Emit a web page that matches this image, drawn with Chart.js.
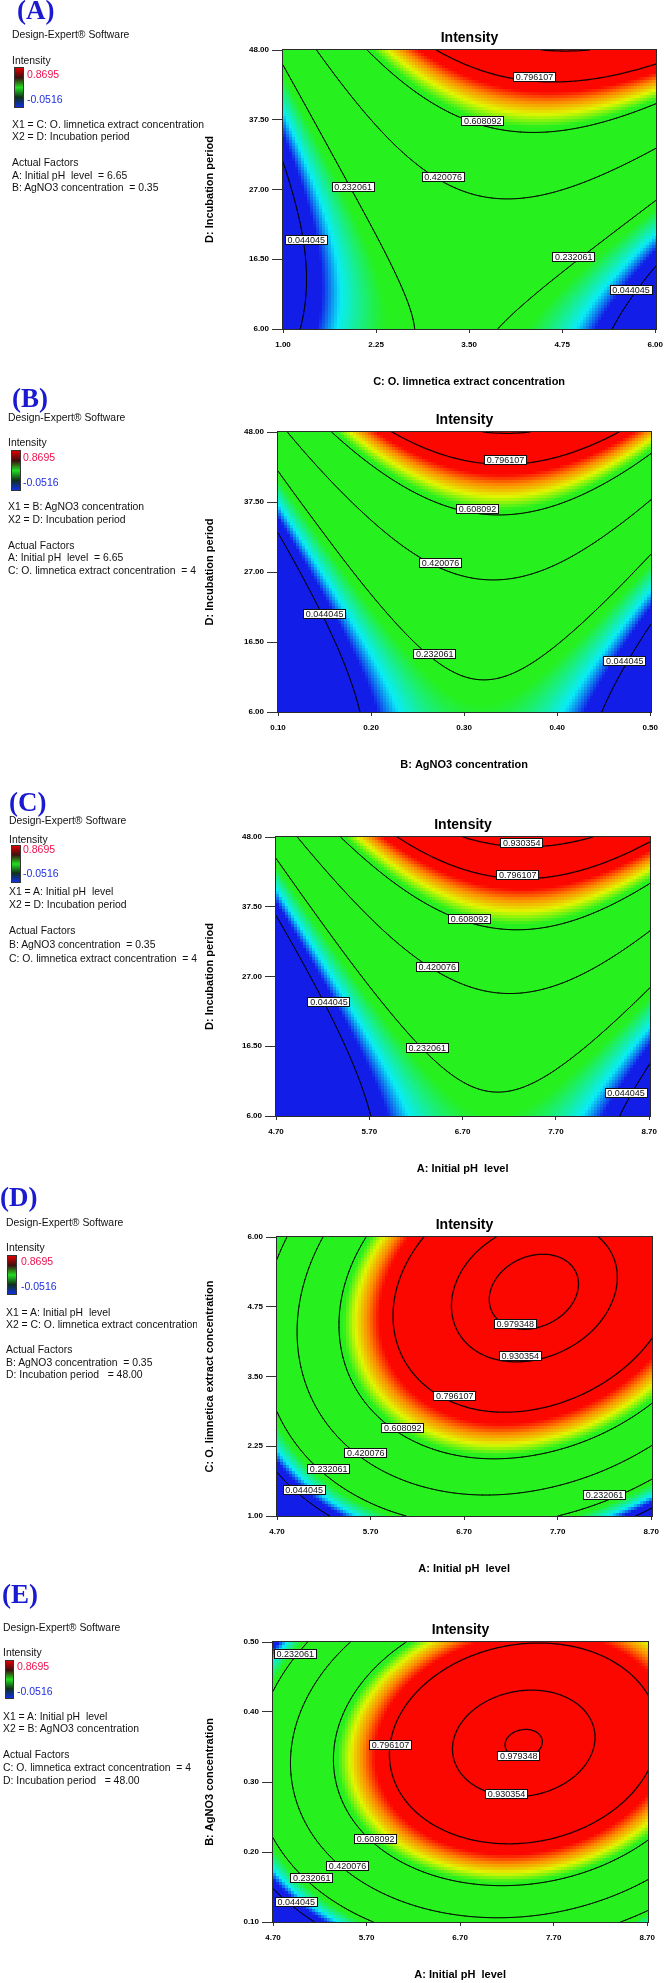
<!DOCTYPE html>
<html lang="en">
<head>
<meta charset="UTF-8">
<title>Intensity contour plots</title>
<script src="https://cdn.jsdelivr.net/npm/chart.js@4"></script>
<style>
  * { box-sizing: border-box; margin: 0; padding: 0; }
  body { width: 666px; height: 1983px; background: #fff; position: relative; overflow: hidden;
         font-family: "Liberation Sans", Arial, sans-serif; color: #111; }
  .info { position: absolute; left: 0; top: 0; width: 216px; height: 1983px; overflow: hidden; z-index: 1; }
  .info div { position: absolute; white-space: pre; font-size: 10.4px; line-height: 12px; }
  .info .hi { color: #f0124e; font-size: 10.5px; }
  .info .lo { color: #1e2ee0; font-size: 10.5px; }
  .info .tag { font-family: "Liberation Serif", "Times New Roman", serif; font-weight: bold;
               font-size: 27px; line-height: 30px; color: #1a1ad0; }
  .info .cut { width: 191px; overflow: hidden; }
  .bar { position: absolute; border: 1px solid #333;
         background: linear-gradient(#e00000, #3a1010 25%, #22dd22 50%, #10301a 75%, #1030e0); }
  canvas { position: absolute; left: 200px; }
</style>
</head>
<body>
<div class="info">
  <div class="tag" style="left:17px;top:-5px">(A)</div>
  <div style="left:12px;top:29px">Design-Expert® Software</div>
  <div style="left:12px;top:55px">Intensity</div>
  <span class="bar" style="left:14px;top:67px;width:10px;height:41px"></span>
  <div class="hi" style="left:27px;top:68px">0.8695</div>
  <div class="lo" style="left:27px;top:93px">-0.0516</div>
  <div style="left:12px;top:119px">X1 = C: O. limnetica extract concentration</div>
  <div style="left:12px;top:131px">X2 = D: Incubation period</div>
  <div style="left:12px;top:157px">Actual Factors</div>
  <div style="left:12px;top:170px">A: Initial pH  level  = 6.65</div>
  <div style="left:12px;top:182px">B: AgNO3 concentration  = 0.35</div>

  <div class="tag" style="left:12px;top:383px">(B)</div>
  <div style="left:8px;top:412px">Design-Expert® Software</div>
  <div style="left:8px;top:437px">Intensity</div>
  <span class="bar" style="left:11px;top:450px;width:10px;height:41px"></span>
  <div class="hi" style="left:23px;top:451px">0.8695</div>
  <div class="lo" style="left:23px;top:476px">-0.0516</div>
  <div style="left:8px;top:501px">X1 = B: AgNO3 concentration</div>
  <div style="left:8px;top:514px">X2 = D: Incubation period</div>
  <div style="left:8px;top:540px">Actual Factors</div>
  <div style="left:8px;top:552px">A: Initial pH  level  = 6.65</div>
  <div style="left:8px;top:565px">C: O. limnetica extract concentration  = 4</div>

  <div class="tag" style="left:9px;top:787px">(C)</div>
  <div style="left:9px;top:815px">Design-Expert® Software</div>
  <div style="left:9px;top:834px">Intensity</div>
  <span class="bar" style="left:11px;top:845px;width:10px;height:38px"></span>
  <div class="hi" style="left:23px;top:843px">0.8695</div>
  <div class="lo" style="left:23px;top:867px">-0.0516</div>
  <div style="left:9px;top:886px">X1 = A: Initial pH  level</div>
  <div style="left:9px;top:899px">X2 = D: Incubation period</div>
  <div style="left:9px;top:925px">Actual Factors</div>
  <div style="left:9px;top:939px">B: AgNO3 concentration  = 0.35</div>
  <div style="left:9px;top:953px">C: O. limnetica extract concentration  = 4</div>

  <div class="tag" style="left:0px;top:1182px">(D)</div>
  <div style="left:6px;top:1217px">Design-Expert® Software</div>
  <div style="left:6px;top:1242px">Intensity</div>
  <span class="bar" style="left:7px;top:1255px;width:10px;height:40px"></span>
  <div class="hi" style="left:21px;top:1255px">0.8695</div>
  <div class="lo" style="left:21px;top:1280px">-0.0516</div>
  <div style="left:6px;top:1307px">X1 = A: Initial pH  level</div>
  <div class="cut" style="left:6px;top:1319px">X2 = C: O. limnetica extract concentration</div>
  <div style="left:6px;top:1344px">Actual Factors</div>
  <div style="left:6px;top:1357px">B: AgNO3 concentration  = 0.35</div>
  <div style="left:6px;top:1369px">D: Incubation period   = 48.00</div>

  <div class="tag" style="left:2px;top:1579px">(E)</div>
  <div style="left:3px;top:1622px">Design-Expert® Software</div>
  <div style="left:3px;top:1647px">Intensity</div>
  <span class="bar" style="left:5px;top:1660px;width:9px;height:39px"></span>
  <div class="hi" style="left:17px;top:1660px">0.8695</div>
  <div class="lo" style="left:17px;top:1685px">-0.0516</div>
  <div style="left:3px;top:1711px">X1 = A: Initial pH  level</div>
  <div style="left:3px;top:1723px">X2 = B: AgNO3 concentration</div>
  <div style="left:3px;top:1749px">Actual Factors</div>
  <div style="left:3px;top:1762px">C: O. limnetica extract concentration  = 4</div>
  <div style="left:3px;top:1775px">D: Incubation period   = 48.00</div>
</div>

<script>
// ---------- Data ----------

// contour levels drawn by Design-Expert
const levels = [0.044045, 0.232061, 0.420076, 0.608092, 0.796107, 0.930354, 0.979348];

// factor tick values
const phTicks      = [4.70, 5.70, 6.70, 7.70, 8.70];
const extractTicks = [1.00, 2.25, 3.50, 4.75, 6.00];
const agno3Ticks   = [0.10, 0.20, 0.30, 0.40, 0.50];
const periodTicks  = [6.00, 16.50, 27.00, 37.50, 48.00];

// Intensity estimated at the tick grid; rows go up the y axis, columns along x.
// (A) x = extract concentration, y = incubation period
const intensityA = [
  [-0.003, 0.193, 0.245, 0.153, -0.083],
  [-0.027, 0.211, 0.306, 0.256,  0.063],
  [ 0.012, 0.292, 0.428, 0.421,  0.270],
  [ 0.111, 0.434, 0.612, 0.647,  0.539],
  [ 0.272, 0.637, 0.858, 0.935,  0.868],
];
// (B) x = AgNO3 concentration, y = incubation period
const intensityB = [
  [-0.237, 0.071, 0.195, 0.137, -0.105],
  [-0.174, 0.146, 0.283, 0.237,  0.008],
  [-0.051, 0.282, 0.431, 0.398,  0.181],
  [ 0.132, 0.477, 0.639, 0.618,  0.414],
  [ 0.375, 0.740, 0.917, 0.908,  0.707],
];
// (C) x = initial pH, y = incubation period
const intensityC = [
  [-0.296, 0.040, 0.194, 0.167, -0.042],
  [-0.234, 0.117, 0.287, 0.275,  0.083],
  [-0.112, 0.255, 0.440, 0.445,  0.268],
  [ 0.070, 0.453, 0.655, 0.675,  0.514],
  [ 0.313, 0.712, 0.930, 0.966,  0.821],
];
// (D) x = initial pH, y = extract concentration
const intensityD = [
  [-0.159, 0.160, 0.291, 0.232, -0.009],
  [ 0.138, 0.490, 0.653, 0.626,  0.418],
  [ 0.292, 0.678, 0.873, 0.878,  0.703],
  [ 0.305, 0.723, 0.950, 0.988,  0.845],
  [ 0.175, 0.625, 0.885, 0.956,  0.846],
];
// (E) x = initial pH, y = AgNO3 concentration
const intensityE = [
  [-0.133, 0.214, 0.378, 0.359, 0.155],
  [ 0.189, 0.557, 0.741, 0.742, 0.560],
  [ 0.327, 0.715, 0.920, 0.942, 0.780],
  [ 0.281, 0.690, 0.916, 0.958, 0.817],
  [ 0.051, 0.481, 0.727, 0.790, 0.669],
];

// contour label anchors: [x, y, level]
const labelsA = [[4.378, 43.99, 0.796107], [3.684, 37.32, 0.608092], [3.151, 28.85, 0.420076],
                 [1.942, 27.45, 0.232061], [1.311, 19.38, 0.044045], [4.907, 16.78, 0.232061],
                 [5.676, 11.81, 0.044045]];
const labelsB = [[0.3446, 43.85, 0.796107], [0.3144, 36.44, 0.608092], [0.2746, 28.33, 0.420076],
                 [0.1501, 20.77, 0.044045], [0.2685, 14.66, 0.232061], [0.4726, 13.61, 0.044045]];
const labelsC = [[7.334, 47.10, 0.930354], [7.291, 42.33, 0.796107], [6.773, 35.71, 0.608092],
                 [6.428, 28.38, 0.420076], [5.268, 23.11, 0.044045], [6.322, 16.24, 0.232061],
                 [8.452, 9.47, 0.044045]];
const labelsD = [[7.246, 4.449, 0.979348], [7.299, 3.864, 0.930354], [6.599, 3.148, 0.796107],
                 [6.044, 2.575, 0.608092], [5.648, 2.134, 0.420076], [5.252, 1.847, 0.232061],
                 [4.990, 1.459, 0.044045], [8.201, 1.370, 0.232061]];
const labelsE = [[4.937, 0.4833, 0.232061], [5.957, 0.3533, 0.796107], [7.327, 0.3371, 0.979348],
                 [7.196, 0.2833, 0.930354], [5.797, 0.2186, 0.608092], [5.496, 0.1800, 0.420076],
                 [5.114, 0.1629, 0.232061], [4.948, 0.1281, 0.044045]];

// ---------- Styling ----------

const FONT = '"Liberation Sans", Arial, sans-serif';
Chart.defaults.font.family = FONT;
Chart.defaults.color = '#000';

// blue -> cyan -> green plateau -> yellow -> red
const COLOR_STOPS = [
  [0.085, [18, 30, 232]],
  [0.128, [10, 236, 246]],
  [0.205, [38, 240, 30]],
  [0.625, [38, 240, 30]],
  [0.672, [226, 246, 0]],
  [0.715, [252, 140, 0]],
  [0.755, [252, 6, 0]],
];

function colorAt(v) {
  if (v <= COLOR_STOPS[0][0]) return COLOR_STOPS[0][1];
  for (let k = 1; k < COLOR_STOPS.length; k++) {
    const [v1, c1] = COLOR_STOPS[k];
    if (v <= v1) {
      const [v0, c0] = COLOR_STOPS[k - 1];
      const t = (v - v0) / (v1 - v0);
      return c0.map((c, i) => Math.round(c + (c1[i] - c) * t));
    }
  }
  return COLOR_STOPS[COLOR_STOPS.length - 1][1];
}

// ---------- Surface sampling (Catmull-Rom between grid values) ----------

function cr1(vals, u) {
  const n = vals.length;
  let i = Math.floor(u);
  if (i < 0) i = 0;
  if (i > n - 2) i = n - 2;
  const t = u - i;
  const g = k => k < 0 ? 3 * vals[0] - 3 * vals[1] + vals[2]
           : k > n - 1 ? 3 * vals[n - 1] - 3 * vals[n - 2] + vals[n - 3]
           : vals[k];
  const p0 = g(i - 1), p1 = g(i), p2 = g(i + 1), p3 = g(i + 2);
  return 0.5 * (2 * p1 + (-p0 + p2) * t + (2 * p0 - 5 * p1 + 4 * p2 - p3) * t * t
                + (-p0 + 3 * p1 - 3 * p2 + p3) * t * t * t);
}

function sample(grid, xs, ys, x, y) {
  const u = (x - xs[0]) / (xs[1] - xs[0]);
  const w = (y - ys[0]) / (ys[1] - ys[0]);
  return cr1(grid.map(row => cr1(row, u)), w);
}

// ---------- Plugin: heat map, contours, labels, frame, title ----------

function surfacePlugin(p) {
  return {
    id: 'surface' + p.tag,
    beforeDatasetsDraw(chart) {
      const { ctx, chartArea: a, scales: { x: xS, y: yS } } = chart;
      const left = Math.floor(a.left), right = Math.ceil(a.right);
      const top = Math.floor(a.top), bottom = Math.ceil(a.bottom);
      const cell = 3;
      ctx.save();
      for (let x0 = left; x0 < right; x0 += cell) {
        const w = Math.min(cell, right - x0);
        const xv = xS.getValueForPixel(x0 + w / 2);
        for (let y0 = top; y0 < bottom; y0 += cell) {
          const h = Math.min(cell, bottom - y0);
          const c = colorAt(sample(p.grid, p.xs, p.ys, xv, yS.getValueForPixel(y0 + h / 2)));
          ctx.fillStyle = `rgb(${c[0]},${c[1]},${c[2]})`;
          ctx.fillRect(x0, y0, w, h);
        }
      }
      ctx.restore();
    },
    afterDatasetsDraw(chart) {
      const { ctx, chartArea: a, scales: { x: xS, y: yS } } = chart;
      const left = Math.floor(a.left), right = Math.ceil(a.right);
      const top = Math.floor(a.top), bottom = Math.ceil(a.bottom);
      // contour lines by marching squares on a fine pixel grid
      const step = 2;
      const nx = Math.ceil((right - left) / step) + 1;
      const ny = Math.ceil((bottom - top) / step) + 1;
      const PX = [], PY = [];
      for (let i = 0; i < nx; i++) PX.push(Math.min(left + i * step, right));
      for (let j = 0; j < ny; j++) PY.push(Math.min(top + j * step, bottom));
      const V = PY.map(py => {
        const yv = yS.getValueForPixel(py);
        return PX.map(px => sample(p.grid, p.xs, p.ys, xS.getValueForPixel(px), yv));
      });
      ctx.save();
      ctx.beginPath();
      ctx.rect(left, top, right - left, bottom - top);
      ctx.clip();
      ctx.lineCap = 'round';
      for (const lv of levels) {
        ctx.beginPath();
        for (let j = 0; j < ny - 1; j++) {
          for (let i = 0; i < nx - 1; i++) {
            const tl = V[j][i], tr = V[j][i + 1], br = V[j + 1][i + 1], bl = V[j + 1][i];
            const pts = [];
            const cross = (v0, v1, x0, y0, x1, y1) => {
              if ((v0 < lv) !== (v1 < lv)) {
                const t = (lv - v0) / (v1 - v0);
                pts.push([x0 + (x1 - x0) * t, y0 + (y1 - y0) * t]);
              }
            };
            cross(tl, tr, PX[i], PY[j], PX[i + 1], PY[j]);
            cross(tr, br, PX[i + 1], PY[j], PX[i + 1], PY[j + 1]);
            cross(bl, br, PX[i], PY[j + 1], PX[i + 1], PY[j + 1]);
            cross(tl, bl, PX[i], PY[j], PX[i], PY[j + 1]);
            if (pts.length === 2) {
              ctx.moveTo(pts[0][0], pts[0][1]); ctx.lineTo(pts[1][0], pts[1][1]);
            } else if (pts.length === 4) {
              ctx.moveTo(pts[0][0], pts[0][1]); ctx.lineTo(pts[1][0], pts[1][1]);
              ctx.moveTo(pts[2][0], pts[2][1]); ctx.lineTo(pts[3][0], pts[3][1]);
            }
          }
        }
        ctx.strokeStyle = 'rgba(0,0,0,0.9)';
        ctx.lineWidth = lv > 0.7 ? 1.3 : 1;
        ctx.stroke();
      }
      ctx.restore();

      // frame, as crisp 1px bars just outside the plot area
      ctx.save();
      ctx.fillStyle = '#2a2a2a';
      ctx.fillRect(left - 1, top - 1, right - left + 2, 1);
      ctx.fillRect(left - 1, bottom, right - left + 2, 1);
      ctx.fillRect(left - 1, top - 1, 1, bottom - top + 2);
      ctx.fillRect(right, top - 1, 1, bottom - top + 2);

      // contour labels
      ctx.font = `9px ${FONT}`;
      ctx.textAlign = 'center';
      ctx.textBaseline = 'middle';
      for (const [lx, ly, lv] of p.labels) {
        const cx = xS.getPixelForValue(lx), cy = yS.getPixelForValue(ly);
        const txt = lv.toFixed(6);
        const w = Math.round(ctx.measureText(txt).width + 5), h = 10;
        const x0 = Math.round(cx - w / 2), y0 = Math.round(cy - h / 2);
        ctx.fillStyle = '#fff';
        ctx.fillRect(x0, y0, w, h);
        ctx.strokeStyle = '#111';
        ctx.strokeRect(x0 + 0.5, y0 + 0.5, w - 1, h - 1);
        ctx.fillStyle = '#111';
        ctx.fillText(txt, cx, y0 + h / 2 + 0.5);
      }

      // plot title
      ctx.font = `bold 14px ${FONT}`;
      ctx.fillStyle = '#000';
      ctx.fillText('Intensity', (left + right) / 2, top - 12);
      ctx.restore();
    },
  };
}

// ---------- Panels ----------

const panels = [
  { tag: 'A', xs: extractTicks, ys: periodTicks, grid: intensityA, labels: labelsA,
    xTitle: 'C: O. limnetica extract concentration', yTitle: 'D: Incubation period',
    L: 283, R: 658, T: 50, B: 329 },
  { tag: 'B', xs: agno3Ticks, ys: periodTicks, grid: intensityB, labels: labelsB,
    xTitle: 'B: AgNO3 concentration', yTitle: 'D: Incubation period',
    L: 278, R: 653, T: 432, B: 712 },
  { tag: 'C', xs: phTicks, ys: periodTicks, grid: intensityC, labels: labelsC,
    xTitle: 'A: Initial pH  level', yTitle: 'D: Incubation period',
    L: 276, R: 652, T: 837, B: 1116 },
  { tag: 'D', xs: phTicks, ys: extractTicks, grid: intensityD, labels: labelsD,
    xTitle: 'A: Initial pH  level', yTitle: 'C: O. limnetica extract concentration',
    L: 277, R: 654, T: 1237, B: 1516 },
  { tag: 'E', xs: phTicks, ys: agno3Ticks, grid: intensityE, labels: labelsE,
    xTitle: 'A: Initial pH  level', yTitle: 'B: AgNO3 concentration',
    L: 273, R: 650, T: 1642, B: 1922 },
];

const CANVAS_LEFT = 200, TOP_SPACE = 45, XAXIS_H = 62, RIGHT_SPACE = 12;

for (const p of panels) {
  const canvas = document.createElement('canvas');
  canvas.width = p.R + RIGHT_SPACE - CANVAS_LEFT;
  canvas.height = p.B - p.T + TOP_SPACE + XAXIS_H;
  canvas.style.top = (p.T - TOP_SPACE) + 'px';
  document.body.appendChild(canvas);

  const tickFont = { size: 8, weight: 'bold' };
  const titleFont = { size: 11, weight: 'bold' };

  new Chart(canvas, {
    type: 'scatter',
    data: { datasets: [] },
    plugins: [surfacePlugin(p)],
    options: {
      responsive: false,
      animation: false,
      layout: { padding: { top: TOP_SPACE, right: RIGHT_SPACE, bottom: 0, left: 0 } },
      plugins: { legend: { display: false }, tooltip: { enabled: false }, title: { display: false } },
      scales: {
        x: {
          type: 'linear', min: p.xs[0], max: p.xs[p.xs.length - 1],
          afterBuildTicks: s => { s.ticks = p.xs.map(v => ({ value: v })); },
          afterFit: s => { s.height = XAXIS_H; },
          ticks: { callback: v => Number(v).toFixed(2), font: tickFont, color: '#000',
                   padding: 7, maxRotation: 0, autoSkip: false },
          grid: { drawOnChartArea: false, drawTicks: true, tickLength: 4, color: '#333' },
          border: { display: false },
          title: { display: true, text: p.xTitle, font: titleFont, color: '#000',
                   padding: { top: 0, bottom: 2 } },
        },
        y: {
          type: 'linear', min: p.ys[0], max: p.ys[p.ys.length - 1],
          afterBuildTicks: s => { s.ticks = p.ys.map(v => ({ value: v })); },
          afterFit: s => { s.width = p.L - CANVAS_LEFT; },
          ticks: { callback: v => Number(v).toFixed(2), font: tickFont, color: '#000',
                   padding: 3, autoSkip: false },
          grid: { drawOnChartArea: false, drawTicks: true, tickLength: 11, color: '#333' },
          border: { display: false },
          title: { display: true, text: p.yTitle, font: titleFont, color: '#000',
                   padding: { top: 3, bottom: 0 } },
        },
      },
    },
  });
}
</script>
</body>
</html>
